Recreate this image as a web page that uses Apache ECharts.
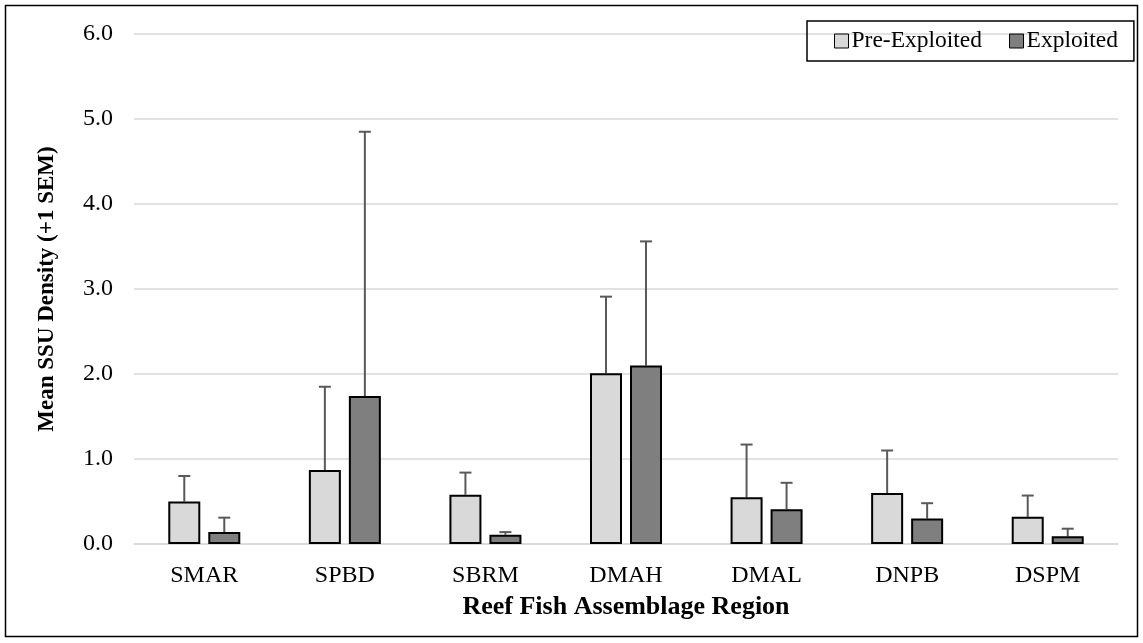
<!DOCTYPE html>
<html>
<head>
<meta charset="utf-8">
<script src="https://cdn.jsdelivr.net/npm/echarts@6/dist/echarts.min.js"></script>
<style>
html,body{margin:0;padding:0;background:#fff;}
#chart{width:1143px;height:643px;}
</style>
</head>
<body>
<div id="chart"></div>
<script>
const categories = ['SMAR','SPBD','SBRM','DMAH','DMAL','DNPB','DSPM'];
const preExploited = [0.50, 0.87, 0.58, 2.01, 0.55, 0.60, 0.32];
const preExploitedErrTop = [0.80, 1.85, 0.84, 2.91, 1.17, 1.10, 0.57];
const exploited = [0.14, 1.74, 0.11, 2.10, 0.41, 0.30, 0.09];
const exploitedErrTop = [0.31, 4.85, 0.14, 3.56, 0.72, 0.48, 0.18];
const yTicks = [0, 1, 2, 3, 4, 5, 6];

const FONT = '"Liberation Serif", "Times New Roman", serif';

function errSeries(name, vals, tops, offset) {
  return {
    type: 'custom',
    name: name + ' err',
    z: 1,
    data: vals.map((v, i) => [i, v, tops[i]]),
    renderItem: function (params, api) {
      const i = api.value(0);
      const p0 = api.coord([i, api.value(1)]);
      const p1 = api.coord([i, api.value(2)]);
      const x = p0[0] + offset;
      const style = { stroke: '#595959', lineWidth: 2 };
      return {
        type: 'group',
        children: [
          { type: 'line', shape: { x1: x, y1: p0[1], x2: x, y2: p1[1] }, style: style },
          { type: 'line', shape: { x1: x - 6, y1: p1[1], x2: x + 6, y2: p1[1] }, style: style }
        ]
      };
    }
  };
}

const chart = echarts.init(document.getElementById('chart'), null, { renderer: 'canvas' });
chart.setOption({
  animation: false,
  backgroundColor: '#ffffff',
  textStyle: { fontFamily: FONT },
  grid: { left: 134, right: 25, top: 34, bottom: 99, containLabel: false },
  legend: {
    left: 807,
    top: 21,
    itemWidth: 14,
    itemHeight: 14,
    itemGap: 27,
    padding: [8, 16, 8, 27],
    borderColor: '#000',
    borderWidth: 1.5,
    borderRadius: 0,
    textStyle: { fontFamily: FONT, fontSize: 23.5, color: '#000', padding: [0, 0, 0, -2] },
    data: [
      { name: 'Pre-Exploited', icon: 'rect', itemStyle: { color: '#d9d9d9', borderColor: '#000', borderWidth: 1 } },
      { name: 'Exploited', icon: 'rect', itemStyle: { color: '#7f7f7f', borderColor: '#000', borderWidth: 1 } }
    ]
  },
  xAxis: {
    type: 'category',
    data: categories,
    axisLine: { show: true, lineStyle: { color: '#d9d9d9', width: 1.5 } },
    axisTick: { show: false },
    axisLabel: { fontFamily: FONT, fontSize: 24, color: '#000', margin: 20 },
    name: 'Reef Fish Assemblage Region',
    nameLocation: 'middle',
    nameGap: 50,
    nameTextStyle: { fontFamily: FONT, fontSize: 26, fontWeight: 'bold', color: '#000' }
  },
  yAxis: {
    type: 'value',
    min: yTicks[0],
    max: yTicks[yTicks.length - 1],
    interval: 1,
    axisLine: { show: false },
    axisTick: { show: false },
    splitLine: { lineStyle: { color: '#d9d9d9', width: 1.5 } },
    axisLabel: { fontFamily: FONT, fontSize: 24, color: '#000', margin: 21, formatter: v => v.toFixed(1) },
    name: 'Mean SSU Density (+1 SEM)',
    nameLocation: 'middle',
    nameGap: 75,
    nameTextStyle: { fontFamily: FONT, fontSize: 23, fontWeight: 'bold', color: '#000' }
  },
  graphic: [{
    type: 'rect',
    shape: { x: 5.5, y: 5.5, width: 1132, height: 631 },
    style: { fill: 'none', stroke: '#000', lineWidth: 1.5 },
    silent: true,
    z: 100
  }],
  series: [
    {
      type: 'bar',
      name: 'Pre-Exploited',
      data: preExploited,
      barWidth: 32,
      barGap: '25%',
      z: 2,
      itemStyle: { color: '#d9d9d9', borderColor: '#000', borderWidth: 2 }
    },
    {
      type: 'bar',
      name: 'Exploited',
      data: exploited,
      barWidth: 32,
      barGap: '25%',
      z: 2,
      itemStyle: { color: '#7f7f7f', borderColor: '#000', borderWidth: 2 }
    },
    errSeries('Pre-Exploited', preExploited, preExploitedErrTop, -20),
    errSeries('Exploited', exploited, exploitedErrTop, 20)
  ]
});
</script>
</body>
</html>
